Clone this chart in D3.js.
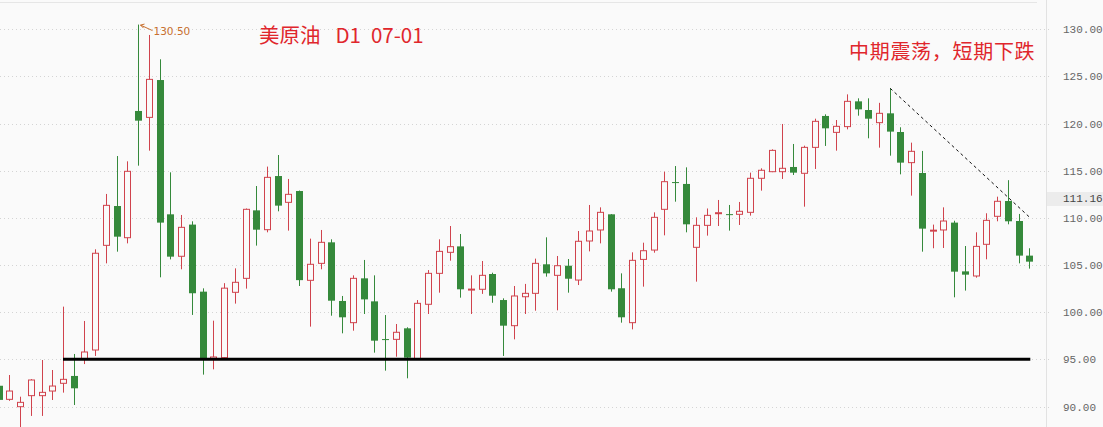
<!DOCTYPE html>
<html>
<head>
<meta charset="UTF-8">
<script src="https://d3js.org/d3.v7.min.js"></script>
<style>
  html, body { margin: 0; padding: 0; background: #fafafa; overflow: hidden; }
</style>
</head>
<body>
<div id="chart"></div>
<script>
    // daily bars, oldest first
    const opens  = [92.2, 90.76, 89.98, 91.15, 91.15, 91.64, 92.46, 93.24, 95.0, 95.99,
        107.09, 111.26, 107.9, 121.34, 120.66, 124.62, 110.38, 105.93, 109.29, 102.18,
        95.0, 95.18, 102.11, 103.59, 110.8, 108.75, 114.44, 111.65, 112.85, 103.38,
        105.18, 107.41, 101.19, 98.89, 103.59, 101.15, 97.15, 97.12, 98.29, 95.08,
        100.84, 104.12, 106.35, 106.98, 102.35, 102.43, 104.05, 101.29, 98.57, 101.64,
        102.0, 105.08, 103.91, 104.93, 103.41, 107.55, 108.72, 110.38, 102.54, 98.89,
        105.6, 106.59, 110.91, 113.8, 113.6, 106.88, 109.21, 110.45, 110.4, 110.38,
        110.59, 114.2, 114.9, 114.9, 115.4, 114.73, 117.48, 120.81, 119.07, 119.68,
        122.36, 121.44, 120.1, 121.09, 119.11, 115.86, 114.76, 108.6, 108.72, 109.5,
        104.33, 103.84, 107.2, 110.17, 111.79, 109.67, 106.0];
    const highs  = [93.5, 93.34, 91.04, 92.9, 94.93, 93.87, 100.59, 95.57, 99.07, 106.67,
        112.54, 116.56, 116.0, 130.5, 129.4, 126.82, 114.83, 110.31, 109.64, 102.53,
        99.1, 103.08, 104.65, 111.0, 113.38, 115.44, 116.67, 114.13, 112.9, 107.8,
        108.72, 107.73, 101.72, 103.91, 105.54, 103.91, 99.7, 98.75, 98.4, 101.29,
        104.47, 107.73, 109.14, 108.29, 103.91, 105.43, 104.19, 101.47, 102.78, 103.0,
        105.68, 107.94, 105.96, 105.64, 108.61, 111.37, 111.12, 110.4, 104.12, 106.35,
        107.37, 110.59, 114.9, 115.5, 115.36, 110.06, 111.0, 111.9, 111.37, 111.69,
        114.8, 115.26, 117.27, 119.96, 117.84, 117.66, 120.52, 120.98, 120.38, 123.1,
        122.68, 122.68, 122.2, 123.74, 119.61, 117.98, 117.1, 109.29, 111.12, 109.7,
        107.02, 108.47, 110.49, 112.25, 114.0, 110.42, 106.78];
    const lows   = [90.0, 90.6, 87.8, 89.0, 89.0, 90.69, 91.47, 90.16, 94.5, 95.36,
        105.18, 106.42, 107.3, 115.54, 117.13, 103.7, 105.6, 104.55, 99.71, 93.38,
        93.94, 95.1, 100.91, 102.5, 107.06, 108.47, 110.7, 108.65, 102.78, 98.47,
        104.55, 99.63, 97.76, 98.04, 99.81, 95.71, 93.8, 95.28, 92.99, 95.0,
        99.81, 102.07, 105.46, 101.54, 99.81, 101.94, 101.0, 95.36, 97.12, 99.81,
        100.16, 103.77, 100.2, 102.07, 102.88, 106.45, 107.3, 102.18, 98.89, 98.18,
        102.71, 106.31, 108.15, 111.72, 108.47, 103.24, 108.12, 109.14, 108.65, 109.25,
        110.24, 112.89, 114.85, 114.13, 114.55, 111.19, 115.19, 117.63, 117.13, 119.39,
        120.84, 118.44, 117.45, 116.6, 114.62, 112.36, 106.42, 106.78, 106.81, 101.58,
        102.29, 103.66, 105.61, 109.64, 109.32, 105.18, 104.62];
    const closes = [90.7, 91.64, 90.44, 92.81, 91.5, 92.17, 92.88, 91.93, 95.78, 106.25,
        111.33, 108.01, 114.94, 120.31, 124.69, 109.5, 105.89, 109.0, 102.01, 95.11,
        95.25, 102.55, 103.17, 110.91, 108.75, 114.3, 111.3, 112.5, 103.4, 105.08,
        107.41, 101.22, 99.46, 103.59, 101.36, 96.98, 97.1, 97.87, 95.18, 100.94,
        104.12, 106.45, 106.95, 102.43, 102.45, 103.91, 101.75, 98.57, 101.72, 102.0,
        105.18, 104.12, 104.93, 103.55, 107.52, 108.61, 110.59, 102.43, 99.46, 105.5,
        106.52, 110.06, 113.84, 113.7, 109.32, 109.21, 110.27, 110.55, 110.3, 110.7,
        114.2, 115.05, 117.16, 115.26, 114.8, 117.48, 120.24, 119.5, 119.71, 122.36,
        121.51, 120.52, 121.09, 119.15, 115.86, 117.06, 108.86, 108.7, 109.67, 104.3,
        103.98, 106.98, 109.74, 111.76, 109.64, 106.0, 105.36];

    const priceTicks = [90, 95, 100, 105, 110, 115, 120, 125, 130];
    const lastPrice = 111.16;
    const supportLevel = 95;
    const peakIndex = 13;
    const trendFrom = 83, trendTo = 96, trendEnd = 110;   // dotted resistance line
    const titleParts = ["美原油", "D1", "07-01"];
    const comment = "中期震荡，短期下跌";

    const bars = opens.map((o, i) => ({i: i, o: o, h: highs[i], l: lows[i], c: closes[i]}));

    const width = 1103, height = 427;
    const axisX = 1046;
    const upColor = "#d0434d", downColor = "#35893b";

    const svg = d3.select("#chart")
        .append("svg")
        .attr("width", width)
        .attr("height", height)
        .style("display", "block");

    svg.append("rect").attr("width", width).attr("height", height).attr("fill", "#fafafa");

    const x = d3.scaleLinear()
        .domain([0, bars.length - 1])
        .range([-1.4, 1029.3]);
    const y = d3.scaleLinear()
        .domain([90, 130])
        .range([406.5, 29.3]);

    // top border + dotted grid
    svg.append("line")
        .attr("x1", 0).attr("x2", 1037).attr("y1", 2.5).attr("y2", 2.5)
        .attr("stroke", "#e6e6e6");
    svg.append("g")
        .selectAll("line")
        .data(priceTicks)
        .join("line")
        .attr("x1", 0).attr("x2", axisX + 4)
        .attr("y1", d => Math.round(y(d)) + 0.5)
        .attr("y2", d => Math.round(y(d)) + 0.5)
        .attr("stroke", "#d4d4d4")
        .attr("stroke-dasharray", "1,3");

    // right price axis
    svg.append("line")
        .attr("x1", axisX + 0.5).attr("x2", axisX + 0.5)
        .attr("y1", 0).attr("y2", height)
        .attr("stroke", "#e2e2e2");

    svg.append("rect")
        .attr("x", axisX + 1).attr("y", y(lastPrice) - 15)
        .attr("width", width - axisX).attr("height", 14)
        .attr("fill", "#ececec");

    const axis = svg.append("g")
        .attr("transform", `translate(${axisX},0)`)
        .call(d3.axisRight(y).tickValues(priceTicks).tickSize(0).tickPadding(17)
            .tickFormat(d3.format(".2f")));
    axis.select(".domain").remove();
    axis.selectAll("text")
        .attr("font-family", "'Liberation Mono', monospace")
        .attr("font-size", "11px")
        .attr("fill", "#666");

    svg.append("text")
        .attr("x", axisX + 17).attr("y", y(lastPrice) - 8)
        .attr("dy", "0.32em")
        .attr("font-family", "'Liberation Mono', monospace")
        .attr("font-size", "11px")
        .attr("fill", "#444")
        .text(d3.format(".2f")(lastPrice));

    // candles
    const candles = svg.append("g")
        .selectAll("g")
        .data(bars)
        .join("g")
        .attr("transform", d => `translate(${Math.round(x(d.i))},0)`);

    candles.append("line")
        .attr("x1", 0.5).attr("x2", 0.5)
        .attr("y1", d => y(d.h))
        .attr("y2", d => y(d.l))
        .attr("stroke", d => d.c >= d.o ? upColor : downColor);

    candles.append("rect")
        .attr("x", d => d.c >= d.o ? -2.5 : -3)
        .attr("width", d => d.c >= d.o ? 6 : 7)
        .attr("y", d => y(Math.max(d.o, d.c)))
        .attr("height", d => Math.max(1, y(Math.min(d.o, d.c)) - y(Math.max(d.o, d.c))))
        .attr("fill", d => d.c >= d.o ? "#fafafa" : downColor)
        .attr("stroke", d => d.c >= d.o ? upColor : "none");

    // support line
    svg.append("line")
        .attr("x1", x(6)).attr("x2", x(bars.length - 1) + 1)
        .attr("y1", y(supportLevel)).attr("y2", y(supportLevel))
        .attr("stroke", "#000")
        .attr("stroke-width", 3);

    // dotted trend line
    svg.append("line")
        .attr("x1", x(trendFrom) + 0.5).attr("y1", y(highs[trendFrom]))
        .attr("x2", x(trendTo) + 1).attr("y2", y(trendEnd))
        .attr("stroke", "#111")
        .attr("stroke-dasharray", "3,3");

    // peak marker
    const px = Math.round(x(peakIndex)) + 1.5, py = y(highs[peakIndex]);
    svg.append("path")
        .attr("d", `M${px + 13},${py + 6} L${px + 1},${py + 0.5} M${px + 1},${py + 0.5} l4,-1 M${px + 1},${py + 0.5} l3,3`)
        .attr("stroke", "#c8702f")
        .attr("fill", "none");
    svg.append("text")
        .attr("x", px + 14).attr("y", py + 10)
        .attr("font-family", "'DejaVu Sans', sans-serif")
        .attr("font-size", "10.5px")
        .attr("fill", "#c8702f")
        .text(d3.format(".2f")(highs[peakIndex]));

    // annotations
    const titleText = svg.append("text")
        .attr("x", 259).attr("y", 43)
        .attr("font-family", "'Noto Sans CJK SC', sans-serif")
        .attr("font-size", "20.5px")
        .attr("fill", "#e0262c");
    titleText.selectAll("tspan")
        .data(titleParts)
        .join("tspan")
        .attr("dx", (d, i) => i === 0 ? 0 : (i === 1 ? 15 : 10))
        .text(d => d);

    svg.append("text")
        .attr("x", 849).attr("y", 59)
        .attr("font-family", "'Noto Sans CJK SC', sans-serif")
        .attr("font-size", "20px")
        .attr("letter-spacing", "0.7px")
        .attr("fill", "#e0262c")
        .text(comment);
</script>
</body>
</html>
